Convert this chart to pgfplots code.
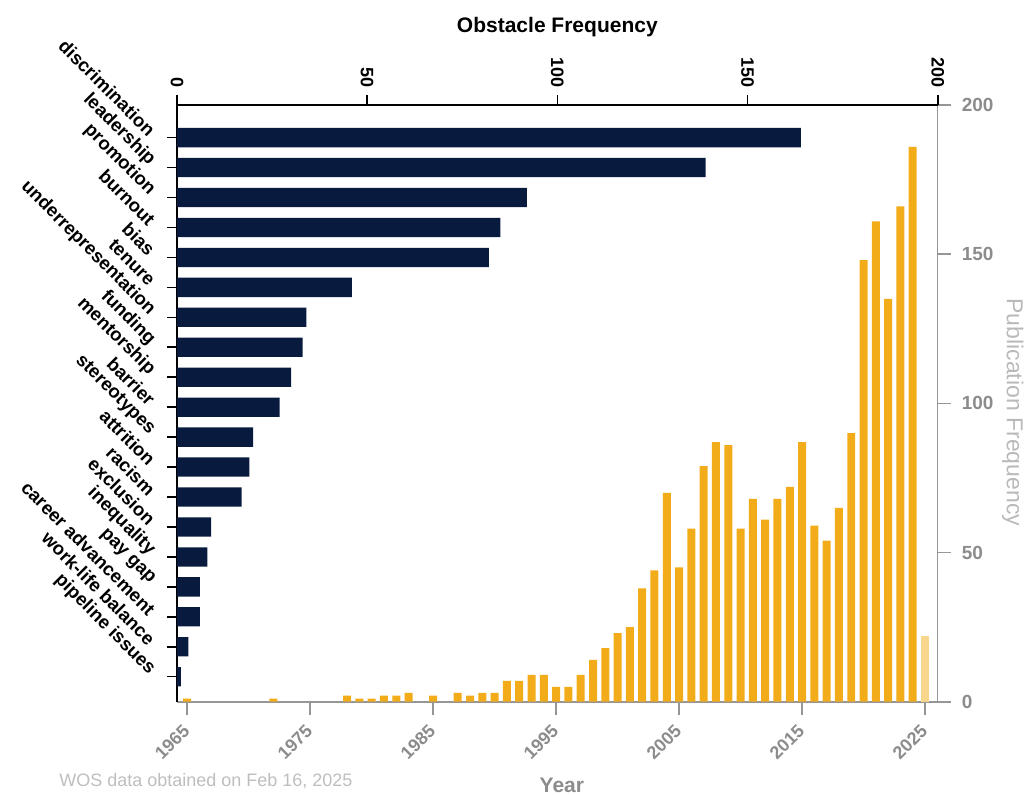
\documentclass[border=0pt]{standalone}
\usepackage{pgfplots}
\pgfplotsset{compat=1.18}
\usepackage{fontspec}
\setmainfont{Liberation Sans}
\definecolor{navy}{RGB}{8,27,62}
\definecolor{gold}{RGB}{243,172,25}
\definecolor{lightgold}{RGB}{248,214,140}
\definecolor{axgray}{RGB}{150,150,150}
\definecolor{lblgray}{RGB}{140,140,140}
\definecolor{ylblgray}{RGB}{185,185,185}
\definecolor{notegray}{RGB}{190,190,190}
\pgfplotstableread{
x y
1965 1
1972 1
1978 2
1979 1
1980 1
1981 2
1982 2
1983 3
1985 2
1987 3
1988 2
1989 3
1990 3
1991 7
1992 7
1993 9
1994 9
1995 5
1996 5
1997 9
1998 14
1999 18
2000 23
2001 25
2002 38
2003 44
2004 70
2005 45
2006 58
2007 79
2008 87
2009 86
2010 58
2011 68
2012 61
2013 68
2014 72
2015 87
2016 59
2017 54
2018 65
2019 90
2020 148
2021 161
2022 135
2023 166
2024 186
}\pubdata
\pgfplotstableread{
x y
2025 22
}\pubpartial
\pgfplotstableread{
y x
0 1
1 3
2 6
3 6
4 8
5 9
6 17
7 19
8 20
9 27
10 30
11 33
12 34
13 46
14 82
15 85
16 92
17 139
18 164
}\obst
\begin{document}
\begin{tikzpicture}
% publications axis (bottom / right)
\begin{axis}[
  scale only axis, width=380.35pt, height=298.35pt,
  xmin=1964.17, xmax=2026.03, ymin=0, ymax=200,
  axis x line*=bottom, axis y line*=right,
  axis line style={axgray, line width=0.8pt},
  xtick={1965,1975,...,2025}, ytick={0,50,...,200},
  tick align=outside, major tick length=6.5pt,
  tick style={axgray, line width=0.8pt},
  /pgf/number format/assume math mode=true,
  /pgf/number format/1000 sep={},
  x tick label style={xshift=2pt, yshift=-4pt, rotate=45, anchor=east, font=\bfseries\fontsize{9}{10}\selectfont, text=lblgray},
  y tick label style={xshift=2pt, font=\bfseries\fontsize{9.5}{10}\selectfont, text=lblgray},
  clip=false,
]
\addplot[ybar, bar width=0.65, fill=gold, draw=none] table[x=x,y=y] {\pubdata};
\addplot[ybar, bar width=0.65, fill=lightgold, draw=none] table[x=x,y=y] {\pubpartial};
\node[xshift=37.6pt, rotate=-90, font=\fontsize{11.5}{12}\selectfont, text=ylblgray] at (rel axis cs:1,0.485) {Publication Frequency};
\node[font=\bfseries\fontsize{10.5}{12}\selectfont, text=lblgray] at (rel axis cs:0.506,0) [yshift=-41.6pt] {Year};
\node[font=\fontsize{9}{10}\selectfont, text=notegray] at (rel axis cs:0.038,0) [yshift=-39.6pt] {WOS data obtained on Feb 16, 2025};
\end{axis}
% obstacle axis (top / left)
\begin{axis}[
  scale only axis, width=380.35pt, height=298.35pt,
  xmin=0, xmax=200, ymin=-0.835, ymax=19.09,
  axis x line*=top, axis y line*=left,
  axis line style={black, line width=0.8pt},
  xtick={0,50,...,200}, ytick={0,...,18},
  yticklabels={pipeline issues, work-life balance, career advancement, pay gap, inequality, exclusion, racism, attrition, stereotypes, barrier, mentorship, funding, underrepresentation, tenure, bias, burnout, promotion, leadership, discrimination},
  tick align=outside, major tick length=5pt,
  tick style={black, line width=0.8pt},
  /pgf/number format/assume math mode=true,
  x tick label style={rotate=-90, anchor=east, font=\bfseries\fontsize{9}{10}\selectfont},
  y tick label style={xshift=-5pt, rotate=-45, anchor=east, font=\bfseries\fontsize{9.3}{10}\selectfont},
  clip=false,
]
\addplot[xbar, bar width=0.645, fill=navy, draw=none] table[x=x,y=y] {\obst};
\node[font=\bfseries\fontsize{10.5}{12}\selectfont] at (rel axis cs:0.5,1) [yshift=39pt] {Obstacle Frequency};
\end{axis}
\pgfresetboundingbox
\path (-88.5pt,-46.15pt) rectangle (428.5pt,350.85pt);
\end{tikzpicture}
\end{document}
